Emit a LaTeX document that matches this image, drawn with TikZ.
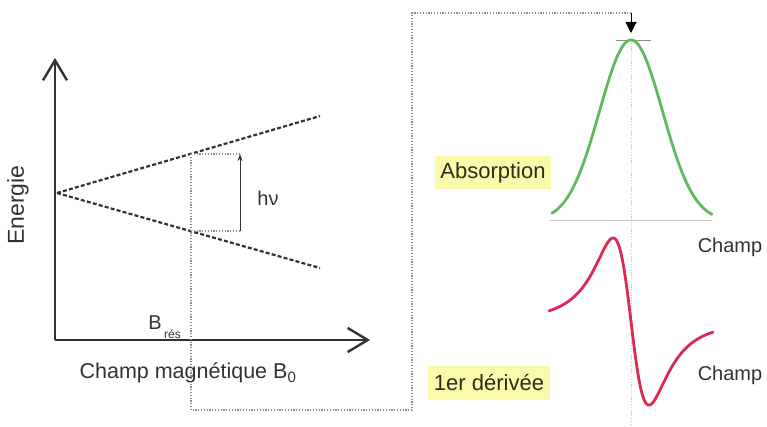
\documentclass[tikz,border=0pt]{standalone}
\usepackage{fontspec}
\setmainfont{Liberation Sans}
\usetikzlibrary{arrows.meta}
\definecolor{axisgray}{RGB}{50,50,50}
\definecolor{dotgray}{RGB}{140,140,140}
\definecolor{lightgray2}{RGB}{200,200,200}
\definecolor{peakgreen}{RGB}{95,185,95}
\definecolor{derivred}{RGB}{220,40,85}
\definecolor{boxyellow}{RGB}{250,250,170}
\definecolor{boxtext}{RGB}{45,45,30}
\tikzset{
  axis/.style={line width=2.4pt, draw=axisgray, -{Straight Barb[length=20pt,width=24pt,line width=2.4pt]}},
  level/.style={line width=2.2pt, draw=axisgray, dash pattern=on 4pt off 2.2pt},
  guide/.style={line width=1.3pt, draw=dotgray, dash pattern=on 1.2pt off 1.6pt},
  lbl/.style={font=\fontsize{20}{24}\selectfont, text=axisgray, inner sep=0pt},
  tag/.style={fill=boxyellow, text=boxtext, font=\fontsize{22}{26}\selectfont, minimum width=116pt, minimum height=33pt, inner sep=2pt}
}
\begin{document}
\begin{tikzpicture}[x=1pt,y=-1pt]
\useasboundingbox (0,0) rectangle (767,427);
% axes
\coordinate (o) at (55,340);
\coordinate (ytip) at (55,58);
\coordinate (xtip) at (370,340);
\draw[axis] (o) -- (ytip);
\draw[axis] (o) -- (xtip);
% energy levels
\coordinate (cross) at (57,193);
\coordinate (upend) at (320,116);
\coordinate (loend) at (320,268);
\draw[level] (cross) -- (upend);
\draw[level] (cross) -- (loend);
% resonance guides
\coordinate (up) at (191,154);
\coordinate (lo) at (191,231);
\coordinate (upr) at (240,154);
\coordinate (lor) at (240,231);
\coordinate (c1) at (191,410);
\coordinate (c2) at (412,410);
\coordinate (c3) at (412,13);
\coordinate (c4) at (631,13);
\coordinate (peakarrow) at (631,33);
\draw[guide] (up) -- (c1) -- (c2) -- (c3) -- (c4);
\draw[guide] (up) -- (upr);
\draw[guide] (lo) -- (lor);
\draw[line width=1pt, draw=axisgray, -{Stealth[length=7pt,width=5pt]}] (lor) -- (upr);
\draw[line width=1pt, draw=black, -{Triangle[length=11pt,width=11pt]}] (c4) -- (peakarrow);
% labels left
\node[lbl, font=\fontsize{23}{27}\selectfont, rotate=90] (energie) at (18,205) {Energie};
\node[lbl] (hnu) at (268,198) {hν};
\node[lbl] (bres) at (155,323) {B};
\node[lbl, font=\fontsize{12}{14}\selectfont, anchor=west] (bressub) at (164,334) {rés};
\node[lbl, font=\fontsize{21.5}{25}\selectfont] (champB) at (188,373) {Champ magnétique B\textsubscript{0}};
% right: absorption
\draw[lightgray2, line width=0.8pt] (550,220) -- (712,220);
\draw[guide, draw=lightgray2, line width=1pt] (631,40) -- (631,425);
\draw[dotgray, line width=1pt] (616,41) -- (651,41);
\draw[peakgreen, line width=2.8pt, line cap=round] plot[domain=552:712, samples=120, smooth] (\x, {221-181*exp(-((\x-631)^2)/(2*31.5^2))});
\draw[derivred, line width=2.8pt, line cap=round] plot[domain=549:713, samples=160, smooth] (\x, {321.5+8.3*(\x-631)/((1+((\x-631)/31)^2)^2)});
\node[tag] (abs) at (493,173) {Absorption};
\node[tag, minimum width=122pt, minimum height=34pt] (der) at (489,383) {1er dérivée};
\node[lbl] (champ1) at (730,247) {Champ};
\node[lbl] (champ2) at (730,375) {Champ};
\end{tikzpicture}
\end{document}
